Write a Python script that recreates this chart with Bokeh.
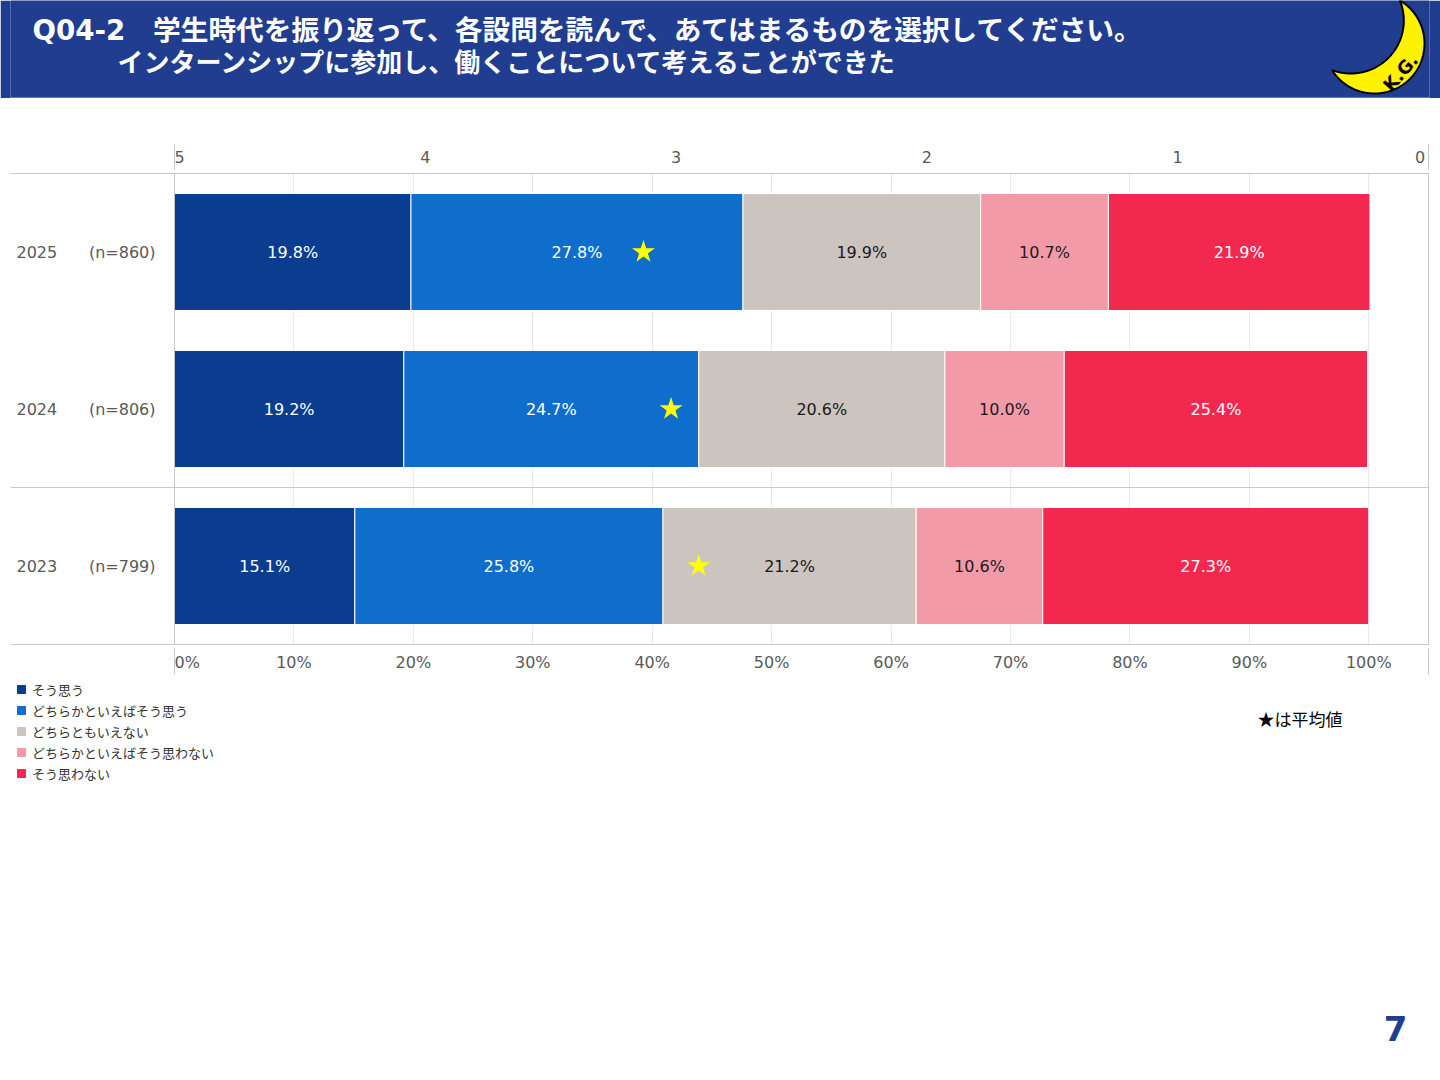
import numpy as np
from bokeh.plotting import figure
from bokeh.models import (ColumnDataSource, Range1d, LinearAxis, FixedTicker, Span,
                          Legend, LegendItem, Grid)
from bokeh.layouts import column
from bokeh.core.properties import value
from bokeh.embed import file_html
from bokeh.resources import INLINE

# ---------------- data ----------------
title_line1 = "Q04-2\u3000学生時代を振り返って、各設問を読んで、あてはまるものを選択してください。"
title_line2 = "インターンシップに参加し、働くことについて考えることができた"
years = ["2025", "2024", "2023"]
sample_n = [860, 806, 799]
categories = ["そう思う", "どちらかといえばそう思う", "どちらともいえない",
              "どちらかといえばそう思わない", "そう思わない"]
v_agree = [19.8, 19.2, 15.1]
v_some_agree = [27.8, 24.7, 25.8]
v_neutral = [19.9, 20.6, 21.2]
v_some_disagree = [10.7, 10.0, 10.6]
v_disagree = [21.9, 25.4, 27.3]
mean_scores = [3.13, 3.02, 2.91]
pct_ticks = [0, 10, 20, 30, 40, 50, 60, 70, 80, 90, 100]
pct_tick_labels = ["0%", "10%", "20%", "30%", "40%", "50%", "60%", "70%", "80%", "90%", "100%"]
score_ticks = [5, 4, 3, 2, 1, 0]
score_tick_labels = ["5", "4", "3", "2", "1", "0"]
note_text = "★は平均値"
page_number = "7"
logo_text = "K.G."

# ---------------- style / layout constants (page pixels) ----------------
HEADER = "#203D8F"
colors = ["#0A3D8F", "#0F6ECB", "#CCC4BE", "#F39AA8", "#F2284F"]
label_colors = ["white", "white", "#1a1a1a", "#1a1a1a", "white"]
LINE = "#c8c8c8"
TICK_TXT = "#595959"
NUM_FONT = "DejaVu Sans"
JP_FONT = "Noto Sans CJK JP"
NB = "\u00a0"
W = 1440
BL, BR = 10, 11                 # left/right borders shared by all figures
FL, FR = BL, W - BR             # frame left/right in page px
ZERO_PX, END_PX = 174, 1428     # page px of 0% and of the right edge (105%)
PX = (END_PX - ZERO_PX) / 105.0
X0 = (FL - ZERO_PX) / PX
X1 = (FR - ZERO_PX) / PX

def base_fig(height, x_range, y_range, **kw):
    f = figure(width=W, height=height, x_range=x_range, y_range=y_range,
               output_backend="svg", toolbar_location=None,
               x_axis_location=None, y_axis_location=None,
               min_border_left=BL, min_border_right=BR, **kw)
    f.grid.visible = False
    return f

# ---------------- header ----------------
H_H = 98
h = base_fig(H_H, Range1d(FL, FR), Range1d(H_H, 0), min_border_top=0, min_border_bottom=0,
             background_fill_color=HEADER, border_fill_color=HEADER, outline_line_color=None)
h.text(x=[32], y=[30], text=[title_line1], text_font=value(NUM_FONT + ", " + JP_FONT),
       text_font_size="27.7px", text_font_style="bold", text_color="white", text_baseline="middle")
h.text(x=[117], y=[62], text=[title_line2], text_font=value(NUM_FONT + ", " + JP_FONT),
       text_font_size="26px", text_font_style="bold", text_color="white", text_baseline="middle")
h.add_layout(Span(location=97.5, dimension="width", line_color="#a9bfe0", line_width=1))

# crescent logo
c1 = np.array([1374.0, 43.0]); r1 = 50.0
c2 = np.array([1350.3, 20.0]); r2 = 53.0
phi = np.arctan2(c1[1] - c2[1], c1[0] - c2[0])
th = phi + np.linspace(-np.pi, np.pi, 721)
outer = np.stack([c1[0] + r1 * np.cos(th), c1[1] + r1 * np.sin(th)], axis=1)
outer = outer[np.hypot(outer[:, 0] - c2[0], outer[:, 1] - c2[1]) > r2]
inner = np.stack([c2[0] + r2 * np.cos(th), c2[1] + r2 * np.sin(th)], axis=1)
inner = inner[np.hypot(inner[:, 0] - c1[0], inner[:, 1] - c1[1]) < r1][::-1]
poly = np.concatenate([outer, inner])
h.patch(x=list(poly[:, 0]), y=list(poly[:, 1]), fill_color="#FFF200",
        line_color="black", line_width=2)
h.text(x=[1400], y=[72], text=[logo_text], angle=0.85, text_font=value(NUM_FONT),
       text_font_size="18px", text_font_style="bold", text_color="black",
       text_align="center", text_baseline="middle")

# ---------------- chart ----------------
ROW_PX = 157.0
TOP_B, FRAME_H, BOT_B = 74, 473, 31
p = base_fig(TOP_B + FRAME_H + BOT_B, Range1d(X0, X1),
             Range1d(-1 / ROW_PX, 3 + 1 / ROW_PX),
             min_border_top=TOP_B, min_border_bottom=BOT_B, outline_line_color=None)
p.extra_x_ranges = {"score": Range1d(5 - X0 / 21.0, 5 - X1 / 21.0)}

p.add_layout(Grid(dimension=0, ticker=FixedTicker(ticks=pct_ticks[1:]),
                  grid_line_color="#e8e8e8", grid_line_width=1))
for loc in (0, 1, 3):
    p.add_layout(Span(location=loc, dimension="width", line_color=LINE, line_width=1))
for loc in (0, 105):
    p.add_layout(Span(location=loc, dimension="height", line_color=LINE, line_width=1))

ypos = [2.5, 1.5, 0.5]
series = [v_agree, v_some_agree, v_neutral, v_some_disagree, v_disagree]
keys = ["c0", "c1", "c2", "c3", "c4"]
src = ColumnDataSource(dict(y=ypos, **{k: s for k, s in zip(keys, series)}))
p.hbar_stack(keys, y="y", height=117 / ROW_PX, color=colors, line_color="white",
             line_width=1, source=src)

lx, ly, lt, lc = [], [], [], []
for i in range(len(years)):
    left = 0.0
    for j, s in enumerate(series):
        lx.append(left + s[i] / 2.0)
        ly.append(ypos[i])
        lt.append(f"{s[i]:.1f}%")
        lc.append(label_colors[j])
        left += s[i]
p.text(x=lx, y=ly, text=lt, text_color=lc, text_font=value(NUM_FONT), text_font_size="16px",
       text_align="center", text_baseline="middle")

p.scatter(x=mean_scores, y=ypos, marker="star", size=24, fill_color="#FFFF00",
          line_color=None, x_range_name="score")

# row labels
p.text(x=[(16 - ZERO_PX) / PX] * 3, y=ypos, text=years, text_font=value(NUM_FONT),
       text_font_size="16px", text_color=TICK_TXT, text_baseline="middle")
p.text(x=[(155 - ZERO_PX) / PX] * 3, y=ypos, text=[f"(n={n})" for n in sample_n],
       text_font=value(NUM_FONT), text_font_size="16px", text_color=TICK_TXT,
       text_baseline="middle", text_align="right")

# end labels nudged off the frame edge lines (as in the original)
top_over = {t: l for t, l in zip(score_ticks, score_tick_labels)}
top_over[score_ticks[0]] = NB * 2 + top_over[score_ticks[0]]
top_over[score_ticks[-1]] = top_over[score_ticks[-1]] + NB * 3
bot_over = {t: l for t, l in zip(pct_ticks, pct_tick_labels)}
bot_over[pct_ticks[0]] = NB * 5 + bot_over[pct_ticks[0]]

axis_text = dict(major_label_text_font=NUM_FONT, major_label_text_font_size="16px",
                 major_label_text_color=TICK_TXT, axis_line_color=None,
                 major_tick_out=0, major_tick_in=0, minor_tick_out=0, minor_tick_in=0)
top_axis = LinearAxis(x_range_name="score", ticker=FixedTicker(ticks=score_ticks),
                      major_label_overrides=top_over, major_label_standoff=6, **axis_text)
p.add_layout(top_axis, "above")
bottom_axis = LinearAxis(ticker=FixedTicker(ticks=pct_ticks),
                         major_label_overrides=bot_over, major_label_standoff=7, **axis_text)
p.add_layout(bottom_axis, "below")

# outer tick-only axes: the frame's edge lines running through the tick-label bands
edge_ticks = dict(axis_line_color=None, major_label_text_font_size="0px", major_label_standoff=0,
                  major_tick_out=0, minor_tick_out=0, minor_tick_in=0,
                  major_tick_line_color=LINE, major_tick_line_width=1)
top_edges = LinearAxis(x_range_name="score",
                       ticker=FixedTicker(ticks=[score_ticks[0], score_ticks[-1]]),
                       major_label_overrides={score_ticks[0]: "", score_ticks[-1]: ""},
                       major_tick_in=25, **edge_ticks)
p.add_layout(top_edges, "above")
bottom_edges = LinearAxis(ticker=FixedTicker(ticks=[0, 105]),
                          major_label_overrides={0: "", 105: ""},
                          major_tick_in=26, **edge_ticks)
p.add_layout(bottom_edges, "below")

# ---------------- bottom area: legend, note, page number ----------------
B_TOP, B_BOT = 98 + TOP_B + FRAME_H + BOT_B, 1078
b = base_fig(B_BOT - B_TOP, Range1d(FL, FR), Range1d(B_BOT, B_TOP),
             min_border_top=0, min_border_bottom=0, outline_line_color=None)
proxies = b.hbar_stack(keys, y="y", height=0.5, color=colors, source=src, visible=False)
items = [LegendItem(label=cat, renderers=[r]) for cat, r in zip(categories, proxies)]
legend = Legend(items=items, location=(16 - FL, B_BOT - 783), orientation="vertical",
                glyph_width=10, glyph_height=10, label_standoff=6, label_height=20,
                spacing=1, padding=0, margin=0, border_line_color=None,
                background_fill_alpha=0, label_text_font=JP_FONT,
                label_text_font_size="13px", label_text_color="#333333")
b.add_layout(legend)
b.text(x=[1257], y=[718], text=[note_text], text_font=value(JP_FONT),
       text_font_size="17px", text_color="black", text_baseline="middle")
b.text(x=[1395], y=[1028], text=[page_number], text_font=value(NUM_FONT),
       text_font_size="34px", text_font_style="bold", text_color=HEADER,
       text_align="center", text_baseline="middle")

layout = column(h, p, b, spacing=0)
open("out.html", "w").write(file_html(layout, INLINE))
